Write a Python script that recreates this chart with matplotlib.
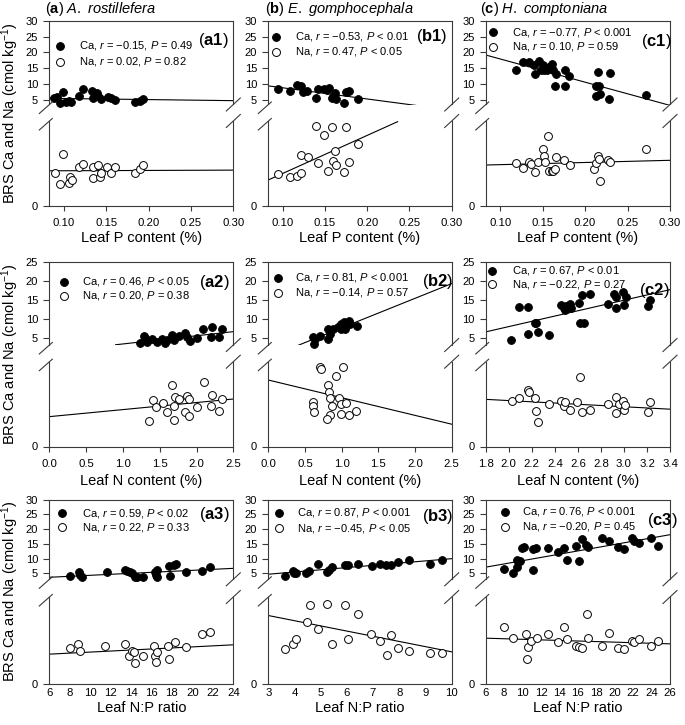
import matplotlib
matplotlib.use('Agg')
import matplotlib.pyplot as plt
from matplotlib.lines import Line2D

plt.rcParams['font.family'] = ['Liberation Sans', 'DejaVu Sans']
plt.rcParams['mathtext.fontset'] = 'custom'
plt.rcParams['mathtext.rm'] = 'Liberation Sans'
plt.rcParams['mathtext.it'] = 'Liberation Sans:italic'
plt.rcParams['mathtext.bf'] = 'Liberation Sans:bold'

# ---------------- data ----------------
species = ["A. rostillefera", "E. gomphocephala", "H. comptoniana"]
col_letters = ["a", "b", "c"]
x_labels = ["Leaf P content (%)", "Leaf N content (%)", "Leaf N:P ratio"]
y_label = "BRS Ca and Na (cmol kg$^{-1}$)"

# Row 1: leaf P
a1_ca_x = [0.088, 0.092, 0.096, 0.099, 0.103, 0.106, 0.109, 0.118, 0.123, 0.133, 0.135, 0.139, 0.141, 0.144, 0.152, 0.156, 0.160, 0.184, 0.190, 0.193]
a1_ca_y = [5.5, 5.9, 4.2, 7.6, 4.4, 4.6, 4.5, 6.4, 8.4, 7.9, 5.6, 7.1, 6.3, 5.2, 6.0, 5.7, 5.0, 4.3, 4.8, 5.3]
a1_na_x = [0.090, 0.096, 0.099, 0.106, 0.107, 0.110, 0.118, 0.123, 0.134, 0.135, 0.141, 0.143, 0.144, 0.151, 0.156, 0.160, 0.184, 0.190, 0.193]
a1_na_y = [0.96, 0.63, 1.53, 0.66, 0.86, 0.76, 1.15, 1.22, 1.15, 0.83, 1.20, 0.86, 0.96, 1.15, 0.97, 1.15, 0.97, 1.07, 1.20]
a1_ca_fit = ([0.083, 0.30], [5.53, 4.79])
a1_na_fit = ([0.083, 0.30], [1.03, 1.05])

b1_ca_x = [0.095, 0.109, 0.117, 0.122, 0.124, 0.129, 0.139, 0.142, 0.149, 0.152, 0.155, 0.158, 0.160, 0.162, 0.163, 0.173, 0.175, 0.178, 0.189]
b1_ca_y = [8.4, 7.9, 9.7, 9.4, 7.6, 7.9, 5.5, 8.4, 8.4, 8.2, 8.7, 5.5, 6.1, 7.3, 5.2, 4.2, 7.6, 7.9, 5.2]
b1_na_x = [0.095, 0.109, 0.117, 0.122, 0.122, 0.130, 0.139, 0.142, 0.149, 0.154, 0.158, 0.159, 0.162, 0.163, 0.175, 0.179, 0.173, 0.189]
b1_na_y = [0.93, 0.86, 0.89, 0.97, 1.50, 1.45, 2.35, 1.27, 2.09, 1.03, 2.33, 1.31, 1.62, 1.20, 2.33, 1.30, 1.00, 1.82]
b1_ca_fit = ([0.083, 0.263], [9.45, 3.1])
b1_na_fit = ([0.083, 0.236], [0.76, 2.48])

c1_ca_x = [0.1185, 0.1264, 0.1343, 0.1394, 0.1414, 0.1462, 0.148, 0.1501, 0.1521, 0.1548, 0.158, 0.1611, 0.1619, 0.1659, 0.1651, 0.1769, 0.1769, 0.1809, 0.2124, 0.2152, 0.2164, 0.2132, 0.2179, 0.2282, 0.229, 0.2716]
c1_ca_y = [14.5, 16.9, 16.9, 15.9, 13.2, 17.2, 14.3, 15.9, 14.3, 14.3, 15.3, 16.4, 14.3, 13.2, 9.3, 14.3, 9.3, 12.5, 9.3, 13.9, 9.3, 6.3, 6.8, 5.2, 13.4, 6.5]
c1_na_x = [0.1185, 0.1264, 0.1343, 0.1363, 0.1414, 0.1442, 0.1501, 0.1521, 0.1533, 0.156, 0.158, 0.1611, 0.1619, 0.1651, 0.1659, 0.1757, 0.1817, 0.2101, 0.2132, 0.2152, 0.2164, 0.2179, 0.227, 0.229, 0.2716]
c1_na_y = [1.25, 1.10, 1.28, 1.23, 1.00, 1.29, 1.67, 1.47, 1.29, 2.06, 1.03, 1.01, 1.03, 1.08, 1.45, 1.34, 1.21, 1.08, 1.25, 1.47, 1.37, 0.74, 1.34, 1.29, 1.67]
c1_ca_fit = ([0.082, 0.30], [19.26, 3.3])
c1_na_fit = ([0.082, 0.30], [1.20, 1.34])

# Row 2: leaf N
a2_ca_x = [1.235, 1.281, 1.303, 1.326, 1.394, 1.462, 1.529, 1.575, 1.597, 1.665, 1.688, 1.756, 1.846, 1.869, 1.914, 2.004, 2.095, 2.208, 2.199, 2.299, 2.344]
a2_ca_y = [3.86, 5.61, 5.0, 4.12, 4.82, 4.12, 4.74, 3.86, 4.56, 5.88, 4.56, 5.61, 6.49, 5.44, 4.39, 5.0, 7.37, 8.07, 5.26, 5.26, 7.46]
a2_na_x = [1.357, 1.407, 1.452, 1.543, 1.597, 1.665, 1.688, 1.688, 1.71, 1.756, 1.846, 1.869, 1.9, 1.9, 2.004, 2.104, 2.208, 2.199, 2.299, 2.344]
a2_na_y = [0.745, 1.373, 1.157, 1.275, 1.01, 1.824, 0.794, 1.206, 1.471, 1.402, 1.01, 1.48, 0.912, 1.402, 1.157, 1.892, 1.52, 1.206, 1.039, 1.402]
a2_ca_fit = ([0.90, 2.5], [3.3, 6.75])
a2_na_fit = ([0.0, 2.5], [0.88, 1.40])

b2_ca_x = [0.615, 0.624, 0.637, 0.705, 0.817, 0.817, 0.839, 0.884, 0.952, 0.987, 0.996, 1.032, 1.05, 1.064, 1.1, 1.109, 1.212]
b2_ca_y = [5.34, 3.62, 4.91, 5.6, 7.5, 4.91, 6.2, 7.5, 7.93, 8.79, 7.5, 9.22, 7.5, 8.36, 9.66, 8.79, 8.36]
b2_na_x = [0.615, 0.615, 0.624, 0.705, 0.714, 0.817, 0.830, 0.839, 0.839, 0.862, 0.794, 0.929, 0.960, 0.996, 0.996, 1.019, 1.064, 1.100, 1.198]
b2_na_y = [1.314, 1.196, 1.02, 2.353, 2.275, 1.814, 1.618, 1.441, 0.922, 1.196, 0.824, 2.078, 1.441, 1.265, 0.951, 2.353, 1.294, 0.922, 1.049]
b2_ca_fit = ([0.39, 2.5], [3.02, 19.4])
b2_na_fit = ([0.0, 2.5], [1.96, 0.657])

c2_ca_x = [2.019, 2.088, 2.169, 2.169, 2.227, 2.235, 2.25, 2.35, 2.457, 2.477, 2.492, 2.5, 2.529, 2.544, 2.607, 2.621, 2.639, 2.65, 2.708, 2.861, 2.91, 2.933, 2.933, 2.99, 2.999, 3.019, 3.206, 3.226]
c2_ca_y = [4.66, 13.14, 13.31, 6.1, 9.07, 8.9, 6.69, 5.93, 13.73, 12.88, 12.46, 13.56, 13.98, 13.05, 14.41, 8.9, 16.27, 8.9, 16.53, 14.15, 16.53, 15.85, 12.88, 17.12, 13.73, 15.85, 13.47, 15.0]
c2_na_x = [2.025, 2.088, 2.169, 2.178, 2.227, 2.241, 2.255, 2.35, 2.457, 2.477, 2.492, 2.535, 2.593, 2.621, 2.639, 2.708, 2.861, 2.933, 2.933, 2.956, 2.99, 2.999, 3.005, 3.206, 3.229]
c2_na_y = [1.343, 1.441, 1.667, 1.618, 1.441, 1.049, 0.716, 1.245, 1.343, 1.196, 1.304, 1.078, 1.304, 2.039, 1.029, 1.078, 1.245, 1.471, 1.0, 1.245, 1.343, 1.078, 1.225, 1.029, 1.304]
c2_ca_fit = ([1.8, 3.4], [6.69, 17.8])
c2_na_fit = ([1.8, 3.4], [1.39, 1.10])

# Row 3: leaf N:P
a3_ca_x = [8.05, 8.86, 9.03, 9.19, 11.63, 13.36, 13.58, 13.91, 14.07, 14.4, 14.56, 15.21, 16.35, 16.42, 16.51, 16.51, 17.72, 17.82, 18.21, 18.37, 19.38, 20.97, 21.72]
a3_ca_y = [4.22, 5.34, 4.55, 3.88, 5.56, 6.23, 5.67, 5.34, 5.0, 3.88, 3.65, 3.65, 5.56, 4.55, 3.65, 6.23, 7.35, 4.22, 7.91, 8.14, 5.56, 5.67, 7.02]
a3_na_x = [8.05, 8.8, 9.03, 11.47, 13.36, 13.75, 14.07, 14.24, 15.15, 14.4, 16.29, 16.35, 16.51, 16.42, 17.65, 17.75, 18.3, 19.35, 20.91, 21.72]
a3_na_y = [1.021, 1.137, 0.925, 1.098, 1.146, 0.809, 0.925, 0.896, 0.809, 0.588, 1.098, 0.809, 0.896, 0.617, 1.098, 0.703, 1.195, 1.069, 1.426, 1.484]
a3_ca_fit = ([6.0, 24.0], [3.65, 6.68])
a3_na_fit = ([6.0, 24.0], [0.848, 1.118])

b3_ca_x = [3.631, 3.933, 3.971, 4.059, 4.438, 4.564, 4.879, 5.232, 5.32, 5.446, 5.926, 6.052, 6.43, 6.96, 7.25, 7.502, 7.691, 7.968, 8.359, 9.179, 9.646]
b3_ca_y = [4.17, 5.83, 5.21, 5.0, 5.0, 5.83, 8.1, 5.52, 6.24, 7.07, 7.79, 7.89, 8.1, 7.58, 8.31, 7.89, 7.79, 8.82, 9.44, 8.31, 9.65]
b3_na_x = [3.631, 3.933, 4.059, 4.475, 4.602, 4.879, 5.232, 5.421, 5.926, 6.052, 6.43, 6.934, 7.25, 7.666, 7.527, 7.968, 8.359, 9.179, 9.646]
b3_na_y = [0.983, 1.156, 1.272, 1.773, 2.264, 1.58, 2.312, 1.156, 2.283, 1.272, 2.023, 1.445, 1.223, 1.397, 0.819, 1.012, 0.934, 0.886, 0.886]
b3_ca_fit = ([3.0, 10.0], [4.69, 9.96])
b3_na_fit = ([3.0, 10.0], [1.965, 0.915])

c3_ca_x = [8.03, 8.93, 9.36, 9.36, 9.62, 9.73, 9.98, 10.2, 11.1, 11.17, 11.46, 12.73, 13.88, 14.54, 14.79, 15.76, 16.16, 16.42, 16.85, 17.14, 18.66, 19.38, 20.39, 21.05, 21.91, 22.13, 22.67, 23.94, 24.66]
c3_ca_y = [6.5, 5.0, 7.08, 9.63, 9.17, 9.17, 13.45, 13.8, 6.16, 13.22, 13.68, 13.45, 12.29, 13.45, 9.4, 14.26, 9.17, 16.57, 14.61, 14.03, 16.92, 16.0, 14.03, 13.1, 16.92, 16.0, 15.42, 16.92, 14.26]
c3_na_x = [8.03, 8.93, 10.34, 10.63, 10.92, 11.53, 10.45, 12.73, 13.81, 14.54, 14.79, 15.76, 16.16, 16.49, 16.96, 17.14, 18.66, 19.38, 20.32, 21.05, 21.91, 22.13, 22.67, 23.94, 24.66]
c3_na_y = [1.628, 1.329, 1.435, 1.05, 1.233, 1.329, 0.713, 1.435, 1.185, 1.647, 1.281, 1.089, 1.069, 1.021, 2.013, 1.329, 1.089, 1.455, 1.04, 1.002, 1.233, 1.195, 1.291, 1.089, 1.233]
c3_ca_fit = ([6.0, 26.0], [7.08, 18.08])
c3_na_fit = ([6.0, 26.0], [1.31, 1.146])

# stats text
ca_stats = [["$r$ = \u22120.15, $P$ = 0.49", "$r$ = \u22120.53, $P$ < 0.01", "$r$ = \u22120.77, $P$ < 0.001"],
            ["$r$ = 0.46, $P$ < 0.05", "$r$ = 0.81, $P$ < 0.001", "$r$ = 0.67, $P$ < 0.01"],
            ["$r$ = 0.59, $P$ < 0.02", "$r$ = 0.87, $P$ < 0.001", "$r$ = 0.76, $P$ < 0.001"]]
na_stats = [["$r$ = 0.02, $P$ = 0.82", "$r$ = 0.47, $P$ < 0.05", "$r$ = 0.10, $P$ = 0.59"],
            ["$r$ = 0.20, $P$ = 0.38", "$r$ = \u22120.14, $P$ = 0.57", "$r$ = \u22120.22, $P$ = 0.27"],
            ["$r$ = 0.22, $P$ = 0.33", "$r$ = \u22120.45, $P$ < 0.05", "$r$ = \u22120.20, $P$ = 0.45"]]

# axis ranges and ticks
x_ranges = [[(0.083, 0.30)] * 3,
            [(0.0, 2.5), (0.0, 2.5), (1.8, 3.4)],
            [(6, 24), (3, 10), (6, 26)]]
x_ticks = [[[0.10, 0.15, 0.20, 0.25, 0.30]] * 3,
           [[0.0, 0.5, 1.0, 1.5, 2.0, 2.5], [0.0, 0.5, 1.0, 1.5, 2.0, 2.5],
            [1.8, 2.0, 2.2, 2.4, 2.6, 2.8, 3.0, 3.2, 3.4]],
           [list(range(6, 25, 2)), list(range(3, 11)), list(range(6, 27, 2))]]
x_fmt = [lambda v: f"{v:.2f}", lambda v: f"{v:.1f}", lambda v: f"{int(v)}"]
ca_ranges = [(3.58, 30), (3.24, 25), (2.97, 30)]
ca_ticks = [[5, 10, 15, 20, 25, 30], [5, 10, 15, 20, 25], [5, 10, 15, 20, 25, 30]]
na_range = (0, 2.5)

panels = {
    (0, 0): (a1_ca_x, a1_ca_y, a1_na_x, a1_na_y, a1_ca_fit, a1_na_fit),
    (0, 1): (b1_ca_x, b1_ca_y, b1_na_x, b1_na_y, b1_ca_fit, b1_na_fit),
    (0, 2): (c1_ca_x, c1_ca_y, c1_na_x, c1_na_y, c1_ca_fit, c1_na_fit),
    (1, 0): (a2_ca_x, a2_ca_y, a2_na_x, a2_na_y, a2_ca_fit, a2_na_fit),
    (1, 1): (b2_ca_x, b2_ca_y, b2_na_x, b2_na_y, b2_ca_fit, b2_na_fit),
    (1, 2): (c2_ca_x, c2_ca_y, c2_na_x, c2_na_y, c2_ca_fit, c2_na_fit),
    (2, 0): (a3_ca_x, a3_ca_y, a3_na_x, a3_na_y, a3_ca_fit, a3_na_fit),
    (2, 1): (b3_ca_x, b3_ca_y, b3_na_x, b3_na_y, b3_ca_fit, b3_na_fit),
    (2, 2): (c3_ca_x, c3_ca_y, c3_na_x, c3_na_y, c3_ca_fit, c3_na_fit),
}

# ---------------- layout (pixels) ----------------
W, H = 685, 725
def fx(p):
    return p / W
def fy(p):
    return 1 - p / H

col_L = [49.3, 268.3, 485.7]
col_R = [233.3, 451.7, 670.0]
# top, top-axes bottom, bottom-axes top, bottom
row_Y = [(20.7, 104.5, 121.0, 205.7),
         (262.3, 345.0, 361.7, 446.5),
         (499.5, 579.3, 597.0, 683.5)]
xlab_y = [238, 481.5, 708]
x_tick_len = [3.5, 3.5, 0.0]
x_tick_pad = [5.5, 5.5, 3.0]

# legend positions: (marker x, Ca y, Na y, text x, label right x, label y)
leg_pos = {
    (0, 0): (60, 45.7, 61.7, 79, 229, 40.7),
    (0, 1): (276, 36.7, 51.7, 295, 447, 36.7),
    (0, 2): (493, 32.3, 46.7, 511.7, 672, 41.7),
    (1, 0): (64, 281.7, 295.7, 81.7, 230, 282.7),
    (1, 1): (278.3, 277.7, 292.7, 295, 453.3, 281.7),
    (1, 2): (492.3, 270.7, 284.0, 511.7, 670, 290.0),
    (2, 0): (61.7, 513.3, 527.3, 81.7, 230, 515.0),
    (2, 1): (279.3, 512.7, 528.3, 296.7, 453.3, 516.7),
    (2, 2): (505, 511.7, 526.7, 521.7, 678, 520.0),
}

spine_col = '#3a3a3a'
fig = plt.figure(figsize=(6.85, 7.25), dpi=100)

def brk(x, y, right=False):
    if right:
        xs, ys = [x - 7, x + 7], [y + 6.5, y - 6.5]
    else:
        xs, ys = [x - 10, x + 3], [y + 9, y - 2.5]
    fig.add_artist(Line2D([fx(v) for v in xs], [fy(v) for v in ys],
                          transform=fig.transFigure, color=spine_col, lw=0.8))

for r in range(3):
    top, tb, bt, bot = row_Y[r]
    for c in range(3):
        L, R = col_L[c], col_R[c]
        cax = fig.add_axes([fx(L), fy(tb), fx(R) - fx(L), fy(top) - fy(tb)])
        nax = fig.add_axes([fx(L), fy(bot), fx(R) - fx(L), fy(bt) - fy(bot)])
        ca_x, ca_y, na_x, na_y, ca_fit, na_fit = panels[(r, c)]
        for ax in (cax, nax):
            ax.set_xlim(*x_ranges[r][c])
            for s in ax.spines.values():
                s.set_color(spine_col)
                s.set_linewidth(0.8)
            ax.patch.set_alpha(0)
        cax.spines['bottom'].set_visible(False)
        nax.spines['top'].set_visible(False)
        cax.set_ylim(*ca_ranges[r])
        nax.set_ylim(*na_range)
        cax.set_yticks(ca_ticks[r])
        cax.set_yticklabels([str(t) for t in ca_ticks[r]])
        nax.set_yticks([0])
        nax.set_yticklabels(['0'])
        cax.tick_params(axis='x', bottom=False, labelbottom=False)
        for ax in (cax, nax):
            ax.tick_params(axis='y', direction='out', length=4.5, width=0.8,
                           color=spine_col, labelsize=8, pad=3.5)
        nax.set_xticks(x_ticks[r][c])
        nax.set_xticklabels([x_fmt[r](v) for v in x_ticks[r][c]])
        nax.tick_params(axis='x', direction='out', length=x_tick_len[r], width=0.8,
                        color=spine_col, labelsize=8.2, pad=x_tick_pad[r])

        cax.plot(ca_fit[0], ca_fit[1], color='black', lw=0.8, zorder=2)
        nax.plot(na_fit[0], na_fit[1], color='black', lw=0.8, zorder=2)
        cax.scatter(ca_x, ca_y, s=32, facecolors='black', edgecolors='black',
                    linewidths=0.6, zorder=3, clip_on=False)
        nax.scatter(na_x, na_y, s=32, facecolors='white', edgecolors='black',
                    linewidths=0.7, zorder=3, clip_on=False)

        # break marks
        for yy in (tb, bt):
            brk(L, yy)
            brk(R, yy, right=True)

        # legend
        mx, cy, ny, tx, lx, ly = leg_pos[(r, c)]
        fig.add_artist(Line2D([fx(mx)], [fy(cy)], transform=fig.transFigure, marker='o',
                              ms=5.7, mfc='black', mec='black', mew=0.6, ls='none'))
        fig.add_artist(Line2D([fx(mx)], [fy(ny)], transform=fig.transFigure, marker='o',
                              ms=5.7, mfc='white', mec='black', mew=0.7, ls='none'))
        fig.text(fx(tx), fy(cy), "Ca, " + ca_stats[r][c], ha='left', va='center', fontsize=8)
        fig.text(fx(tx), fy(ny), "Na, " + na_stats[r][c], ha='left', va='center', fontsize=8)
        fig.text(fx(lx), fy(ly), "($\\bf{" + col_letters[c] + str(r + 1) + "}$)",
                 ha='right', va='center', fontsize=12)

        # x label
        fig.text(fx((L + R) / 2), fy(xlab_y[r]), x_labels[r], ha='center', va='center', fontsize=10.5)

    # y label
    fig.text(fx(10), fy((top + bot) / 2), y_label, rotation=90, ha='center', va='center', fontsize=10.5)

# column titles
title_x = [45, 265, 480]
for c in range(3):
    sp = species[c].replace(' ', '\\ ')
    fig.text(fx(title_x[c]), fy(8.5), "($\\bf{" + col_letters[c] + "}$) $\\it{" + sp + "}$",
             ha='left', va='center', fontsize=10.5)

fig.savefig('out.png', dpi=100)
